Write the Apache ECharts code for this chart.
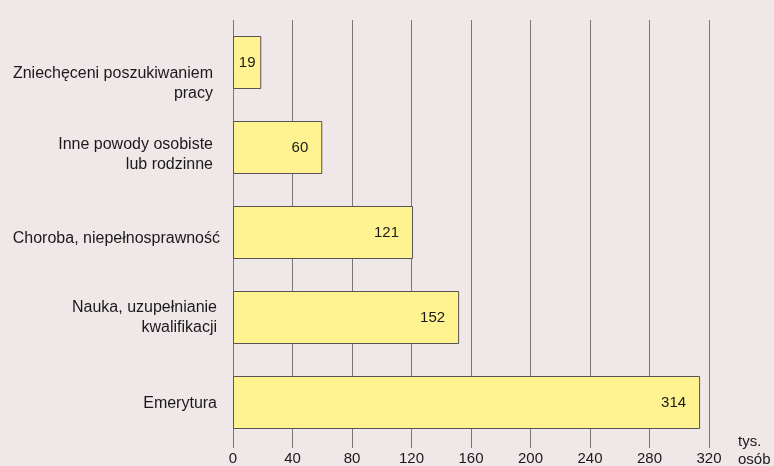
<!DOCTYPE html>
<html><head><meta charset="utf-8">
<script src="https://cdn.jsdelivr.net/npm/echarts@6/dist/echarts.min.js"></script>
<style>html,body{margin:0;padding:0;background:#efe7e8;}#c{width:774px;height:466px;}</style>
</head><body><div id="c"></div>
<script>
var categories = ["Zniechęceni poszukiwaniem\npracy", "Inne powody osobiste\nlub rodzinne", "Choroba, niepełnosprawność", "Nauka, uzupełnianie\nkwalifikacji", "Emerytura"];
var values = [19, 60, 121, 152, 314];
var xTicks = [0, 40, 80, 120, 160, 200, 240, 280, 320];
var unitLabel = "tys.\nosób";

// per-label nudges (top-aligned boxes) to match the reference placement
var labelPadding = [[1, 7, 0, 0], [-13, 7, 0, 0], [-4, 0, 0, 0], [-20, 3, 0, 0], [-9, 3, 0, 0]];

var chart = echarts.init(document.getElementById('c'));
chart.setOption({
  backgroundColor: '#efe7e8',
  animation: false,
  grid: {left: 233, right: 65, top: 20, bottom: 21, containLabel: false},
  xAxis: {
    type: 'value', min: 0, max: 320, interval: 40,
    axisLine: {show: false},
    axisTick: {show: true, length: 3, lineStyle: {color: '#777'}},
    splitLine: {show: true, lineStyle: {color: '#777', width: 1}},
    axisLabel: {color: '#1a1a1a', fontSize: 15, fontFamily: 'Liberation Sans, Arial', margin: 6,
      formatter: function(v){ return xTicks.indexOf(v) >= 0 ? String(v) : ''; }}
  },
  yAxis: {
    type: 'category', inverse: true,
    data: categories.map(function(c, i){ return {value: c, textStyle: {verticalAlign: 'top', padding: labelPadding[i]}}; }),
    axisLine: {show: false}, axisTick: {show: false},
    axisLabel: {color: '#1a1a1a', fontSize: 16, fontFamily: 'Liberation Sans, Arial', margin: 13, lineHeight: 20, align: 'right'}
  },
  series: [{
    type: 'bar', barWidth: 53,
    data: values.map(function(v, i){
      return i === 0 ? {value: v, label: {position: 'inside'}} : v;
    }),
    itemStyle: {color: '#fff291', borderColor: '#555', borderWidth: 1},
    label: {show: true, position: 'insideRight', distance: 14, color: '#1a1a1a', fontSize: 15, fontFamily: 'Liberation Sans, Arial'}
  }],
  graphic: [{
    type: 'text', left: 738, top: 433,
    style: {text: unitLabel, fill: '#1a1a1a', fontSize: 15, fontFamily: 'Liberation Sans, Arial', lineHeight: 18}
  }]
});
</script></body></html>
